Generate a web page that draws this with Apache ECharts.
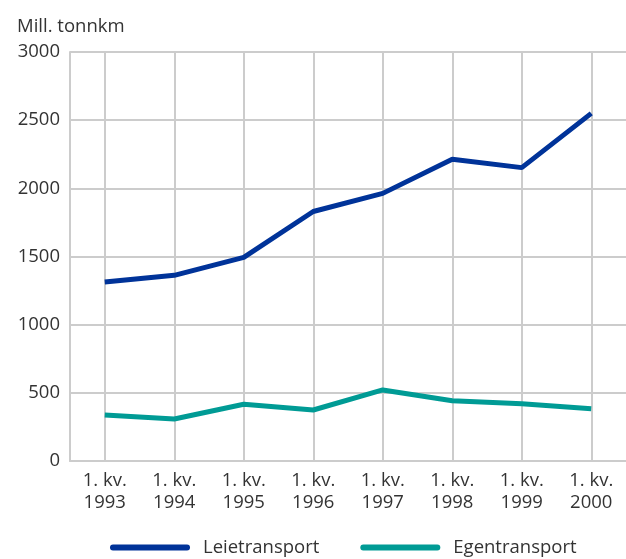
<!DOCTYPE html>
<html>
<head>
<meta charset="utf-8">
<script src="https://cdn.jsdelivr.net/npm/echarts@6/dist/echarts.min.js"></script>
<style>
  html, body { margin: 0; padding: 0; background: #fff; }
  #chart { width: 626px; height: 559px; }
</style>
</head>
<body>
<div id="chart"></div>
<script>
const years = ["1993", "1994", "1995", "1996", "1997", "1998", "1999", "2000"];
const categories = years.map((y) => "1. kv.\n" + y);
const leietransport = [1313, 1362, 1494, 1830, 1963, 2213, 2152, 2550];
const egentransport = [337, 308, 416, 374, 521, 442, 420, 384];

const font = "'Open Sans', 'DejaVu Sans', sans-serif";
const fontSize = 18.5;
const gridColor = "#cccccc";
const textColor = "#333333";

var chart = echarts.init(document.getElementById("chart"));

var option = {
  animation: false,
  title: {
    text: "Mill. tonnkm",
    left: 12,
    top: 12,
    textStyle: { fontFamily: font, fontSize: fontSize, fontWeight: "normal", color: textColor },
  },
  grid: {
    left: 70,
    top: 52,
    width: 560,
    height: 409,
    containLabel: false,
  },
  legend: {
    top: 533,
    left: 105,
    itemWidth: 80,
    itemHeight: 6,
    itemGap: 41,
    icon: "path://M3,0 H77 A3,3 0 0 1 77,6 H3 A3,3 0 0 1 3,0 Z",
    textStyle: { fontFamily: font, fontSize: fontSize, color: textColor, padding: [0, 0, 0, 8] },
    data: ["Leietransport", "Egentransport"],
  },
  xAxis: {
    type: "category",
    data: categories,
    boundaryGap: true,
    axisLine: { lineStyle: { color: gridColor, width: 2 } },
    axisTick: { show: false },
    axisLabel: {
      fontFamily: font,
      fontSize: fontSize,
      color: textColor,
      lineHeight: 22,
      margin: 9,
    },
    splitLine: { show: true, alignWithLabel: true, lineStyle: { color: gridColor, width: 2 } },
  },
  yAxis: {
    type: "value",
    min: 0,
    max: 3000,
    interval: 500,
    axisLine: { show: true, lineStyle: { color: gridColor, width: 2 } },
    axisTick: { show: false },
    axisLabel: {
      fontFamily: font,
      fontSize: fontSize,
      color: textColor,
      margin: 10,
      formatter: (v) => String(v),
    },
    splitLine: { show: true, lineStyle: { color: gridColor, width: 2 } },
  },
  series: [
    {
      name: "Leietransport",
      type: "line",
      data: leietransport,
      symbol: "none",
      itemStyle: { color: "#003399" },
      lineStyle: { color: "#003399", width: 5 },
    },
    {
      name: "Egentransport",
      type: "line",
      data: egentransport,
      symbol: "none",
      itemStyle: { color: "#009b95" },
      lineStyle: { color: "#009b95", width: 5 },
    },
  ],
};

chart.setOption(option);
</script>
</body>
</html>
